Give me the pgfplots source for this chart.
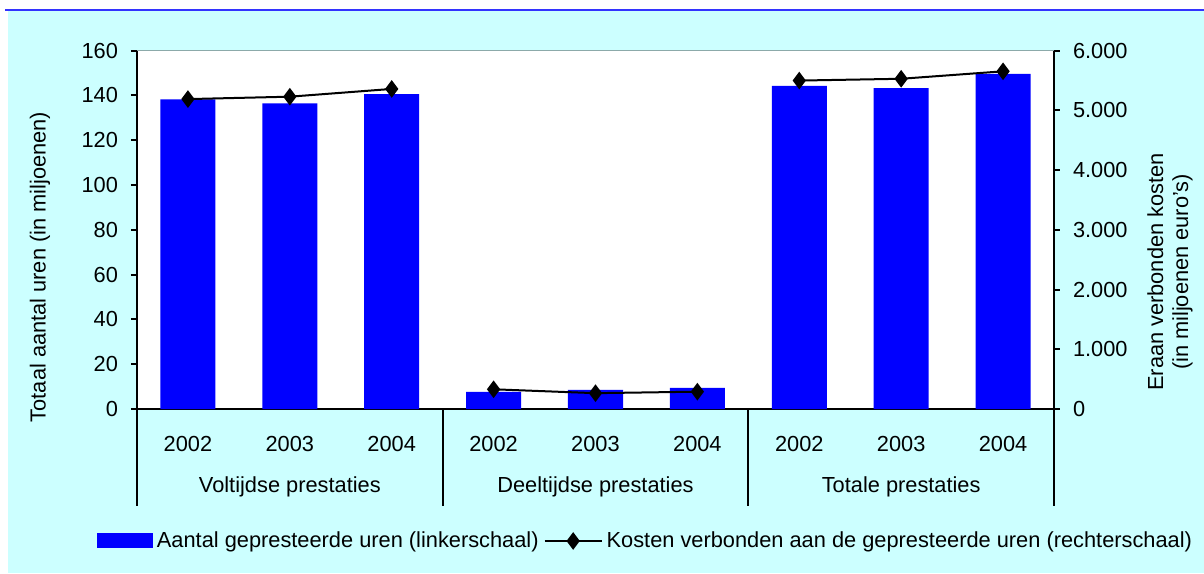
\documentclass[border=0pt]{standalone}
\usepackage{fontspec}
\setmainfont{Liberation Sans}
\usepackage{pgfplots}
\pgfplotsset{compat=1.18}
\definecolor{bgcyan}{RGB}{204,255,255}
\definecolor{barblue}{RGB}{0,0,255}
\definecolor{topblue}{RGB}{51,51,255}
\definecolor{bordergray}{RGB}{140,170,170}
\pgfplotsset{
  mylinelegend/.style={legend image code/.code={\draw[mark repeat=2,mark phase=2,##1] plot coordinates {(0pt,0pt) (14.25pt,0pt) (28.5pt,0pt)};}},
  mybarlegend/.style={legend image code/.code={\fill[barblue] (0pt,-3.75pt) rectangle (28pt,3.75pt);}},
}
\begin{document}
\begin{tikzpicture}[font=\fontsize{10.9pt}{12.5pt}\selectfont]
\useasboundingbox (0,0) rectangle (602pt,286.5pt);
\fill[white] (0,0) rectangle (602pt,286.5pt);
\fill[bgcyan] (4pt,0) rectangle (602pt,281pt);
\draw[topblue, line width=1pt] (2.5pt,281.5pt) -- (602pt,281.5pt);
\begin{axis}[
  at={(68.5pt,82pt)}, anchor=south west,
  scale only axis, width=458.5pt, height=179.15pt,
  xmin=-0.5, xmax=8.5, ymin=0, ymax=160,
  axis background/.style={fill=white},
  axis y line*=left, axis x line*=bottom,
  axis line style={line width=1pt, black, -},
  xtick={0,...,8},
  xticklabels={2002,2003,2004,2002,2003,2004,2002,2003,2004},
  xtick style={draw=none},
  xticklabel style={anchor=center, yshift=-14.5pt},
  ytick={0,20,...,160},
  yticklabels={0,20,40,60,80,100,120,140,160},
  tick align=outside, major tick length=3pt,
  ytick style={line width=1pt, black},
  yticklabel style={xshift=-3pt},
  clip=false,
  legend style={at={(0.5556,-0.3684)}, anchor=center, draw=none, fill=none,
    legend columns=2, /tikz/every even column/.append style={column sep=0.5pt},
    font=\fontsize{10.9pt}{12.5pt}\selectfont},
]
\addplot[ybar, bar width=0.54, fill=barblue, draw=none, mybarlegend]
  coordinates {(0,138.3) (1,136.5) (2,140.6) (3,7.7) (4,8.5) (5,9.4) (6,144.3) (7,143.3) (8,149.7)};
\addlegendentry{Aantal gepresteerde uren (linkerschaal)}
\addlegendimage{black, line width=1pt, mark=diamond*, mark size=3.6pt, mylinelegend}
\addlegendentry{Kosten verbonden aan de gepresteerde uren (rechterschaal)}
\draw[bordergray, line width=0.5pt] (rel axis cs:0,1) -- (rel axis cs:1,1);
\draw[black, line width=1pt] (axis cs:-0.5,0) -- ++(0pt,-48.5pt);
\draw[black, line width=1pt] (axis cs:2.5,0) -- ++(0pt,-48.5pt);
\draw[black, line width=1pt] (axis cs:5.5,0) -- ++(0pt,-48.5pt);
\draw[black, line width=1pt] (axis cs:8.5,0) -- ++(0pt,-48.5pt);
\node[anchor=center] at ([yshift=-39pt]axis cs:1,0) {Voltijdse prestaties};
\node[anchor=center] at ([yshift=-39pt]axis cs:4,0) {Deeltijdse prestaties};
\node[anchor=center] at ([yshift=-39pt]axis cs:7,0) {Totale prestaties};
\end{axis}
\begin{axis}[
  at={(68.5pt,82pt)}, anchor=south west,
  scale only axis, width=458.5pt, height=179.15pt,
  xmin=-0.5, xmax=8.5, ymin=0, ymax=6000,
  axis y line*=right, axis x line=none,
  axis line style={line width=1pt, black, -},
  ytick={0,1000,...,6000},
  yticklabels={0,1.000,2.000,3.000,4.000,5.000,6.000},
  tick align=outside, major tick length=3pt,
  ytick style={line width=1pt, black},
  yticklabel style={xshift=3pt},
  clip=false,
]
\addplot[black, line width=1pt, mark=diamond*, mark size=3.6pt]
  coordinates {(0,5190) (1,5230) (2,5360)};
\addplot[black, line width=1pt, mark=diamond*, mark size=3.6pt]
  coordinates {(3,330) (4,265) (5,290)};
\addplot[black, line width=1pt, mark=diamond*, mark size=3.6pt]
  coordinates {(6,5500) (7,5530) (8,5655)};
\end{axis}
\node[rotate=90] at (20pt,153pt) {Totaal aantal uren (in miljoenen)};
\node[rotate=90, align=center, inner sep=0pt] at (585pt,150.5pt) {Eraan verbonden kosten\\(in miljoenen euro's)};
\end{tikzpicture}
\end{document}
